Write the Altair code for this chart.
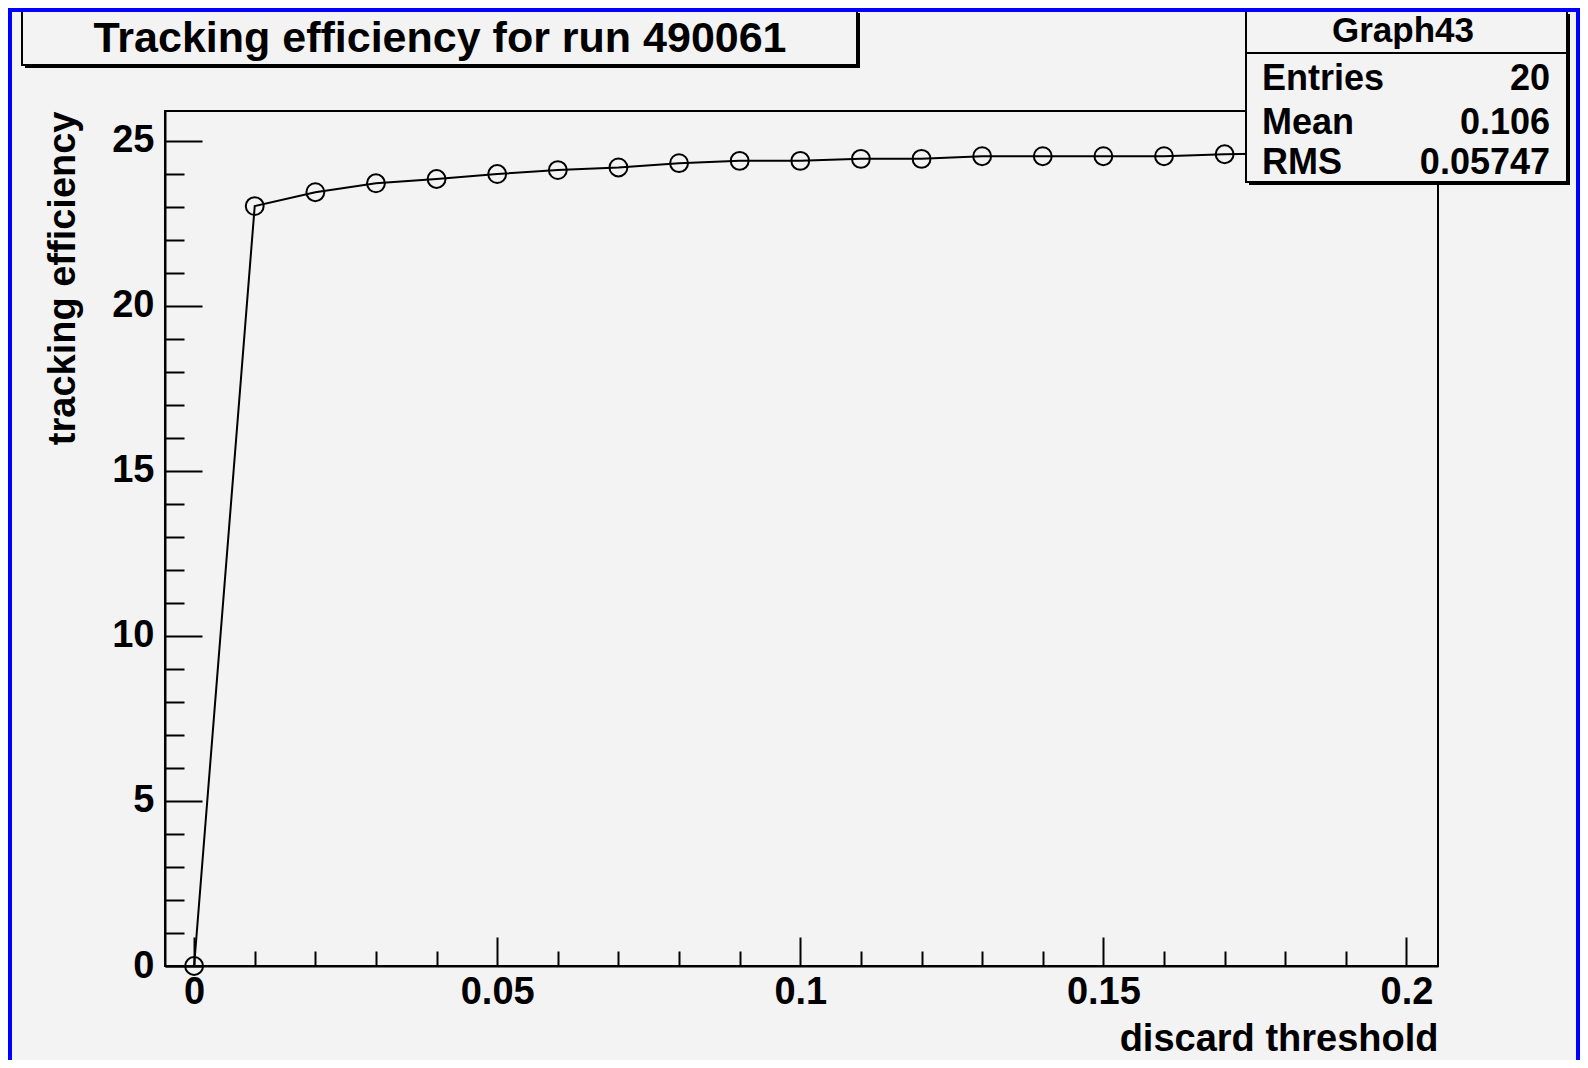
import altair as alt
import pandas as pd

# ---------------- data ----------------
x_vals = [0.00, 0.01, 0.02, 0.03, 0.04, 0.05, 0.06, 0.07, 0.08, 0.09,
          0.10, 0.11, 0.12, 0.13, 0.14, 0.15, 0.16, 0.17, 0.18, 0.19]
y_vals = [0.0, 23.02, 23.44, 23.71, 23.84, 23.99, 24.11, 24.19, 24.32, 24.39,
          24.39, 24.45, 24.45, 24.53, 24.53, 24.53, 24.53, 24.59, 24.62, 24.65]

x_major = [0, 0.05, 0.1, 0.15, 0.2]
x_minor = [0.01, 0.02, 0.03, 0.04, 0.06, 0.07, 0.08, 0.09, 0.11, 0.12,
           0.13, 0.14, 0.16, 0.17, 0.18, 0.19]
y_major = [0, 5, 10, 15, 20, 25]
y_minor = [1, 2, 3, 4, 6, 7, 8, 9, 11, 12, 13, 14, 16, 17, 18, 19, 21, 22, 23, 24]

title_text = "Tracking efficiency for run 490061"
x_title = "discard threshold"
y_title = "tracking efficiency"
stats_name = "Graph43"
stats_labels = ["Entries", "Mean", "RMS"]
stats_values = ["20", "0.106", "0.05747"]

# ---------------- layout ----------------
W, H = 1273, 855
PAD_L, PAD_T = 157, 103
TOTAL_W, TOTAL_H = 1572, 1052
BG = "#f3f3f3"
FONT = "Liberation Sans"

df = pd.DataFrame({"x": x_vals, "y": y_vals})
one = pd.DataFrame({"k": [0]})

xs = alt.Scale(domain=[-0.0048, 0.2052], nice=False, zero=False)
ys = alt.Scale(domain=[0, 25.9], nice=False, zero=False)

lab = dict(labelFont=FONT, labelFontSize=38, labelFontWeight="bold", labelColor="black")
ttl = dict(titleFont=FONT, titleFontSize=38, titleFontWeight="bold", titleColor="black")

# main line with labels / domain
line = alt.Chart(df).mark_line(color="black", strokeWidth=2).encode(
    x=alt.X("x:Q", scale=xs, axis=alt.Axis(
        orient="bottom", values=x_major, format="~g", ticks=False, tickSize=0,
        domain=True, domainColor="black", domainWidth=2, grid=False,
        labelPadding=7, labelFlush=False, labelOverlap=False, **lab,
        title=x_title, titleX=W, titleY=84, titleAlign="right",
        titleBaseline="alphabetic", **ttl)),
    y=alt.Y("y:Q", scale=ys, axis=alt.Axis(
        orient="left", values=y_major, format="d", ticks=False, tickSize=0,
        domain=True, domainColor="black", domainWidth=2, grid=False,
        labelPadding=11, labelFlush=False, labelOverlap=False, **lab,
        title=y_title, titleX=-102, titleY=0, titleAngle=270, titleAlign="right",
        titleBaseline="middle", **ttl)),
)

# markers with major inward ticks
points = alt.Chart(df).mark_point(shape="circle", filled=False, size=320,
                                  stroke="black", strokeWidth=2, opacity=1).encode(
    x=alt.X("x:Q", scale=xs, axis=alt.Axis(
        orient="bottom", values=x_major, ticks=True, tickSize=29, tickWidth=2,
        tickColor="black", offset=-29, domain=False, labels=False, grid=False, title="")),
    y=alt.Y("y:Q", scale=ys, axis=alt.Axis(
        orient="left", values=y_major, ticks=True, tickSize=37, tickWidth=2,
        tickColor="black", offset=-37, domain=False, labels=False, grid=False, title="")),
)

# invisible layer carrying minor inward ticks
minor = alt.Chart(df).mark_point(opacity=0).encode(
    x=alt.X("x:Q", scale=xs, axis=alt.Axis(
        orient="bottom", values=x_minor, ticks=True, tickSize=15, tickWidth=2,
        tickColor="black", offset=-15, domain=False, labels=False, grid=False, title="")),
    y=alt.Y("y:Q", scale=ys, axis=alt.Axis(
        orient="left", values=y_minor, ticks=True, tickSize=19, tickWidth=2,
        tickColor="black", offset=-19, domain=False, labels=False, grid=False, title="")),
)


def box(x1, x2, y1, y2, shadow=3):
    sh = alt.Chart(one).mark_rect(fill="black").encode(
        x=alt.value(x1 + shadow), x2=alt.value(x2 + shadow),
        y=alt.value(y1 + shadow), y2=alt.value(y2 + shadow))
    fr = alt.Chart(one).mark_rect(fill=BG, stroke="black", strokeWidth=2).encode(
        x=alt.value(x1), x2=alt.value(x2), y=alt.value(y1), y2=alt.value(y2))
    return [sh, fr]


def text(s, x, y, size, align):
    return alt.Chart(pd.DataFrame({"t": [s]})).mark_text(
        font=FONT, fontSize=size, fontWeight="bold", color="black",
        align=align, baseline="alphabetic").encode(
        x=alt.value(x), y=alt.value(y), text="t:N")


layers = [line, points, minor]

# title box
layers += box(-143, 692, -101, -46)
layers.append(text(title_text, 275, -59, 43, "center"))

# stats box
layers += box(1081, 1402, -100, 71)
layers.append(alt.Chart(one).mark_rule(color="black", strokeWidth=2).encode(
    x=alt.value(1081), x2=alt.value(1402), y=alt.value(-58)))
layers.append(text(stats_name, 1238, -69, 35, "center"))
rows_y = [-21, 23, 63]
for i in range(len(stats_labels)):
    layers.append(text(stats_labels[i], 1097, rows_y[i], 36, "left"))
    layers.append(text(stats_values[i], 1385, rows_y[i], 36, "right"))

# blue outer frame (bottom edge falls outside the picture)
layers.append(alt.Chart(one).mark_rect(fillOpacity=0, stroke="#0000ff", strokeWidth=8).encode(
    x=alt.value(-PAD_L), x2=alt.value(TOTAL_W - PAD_L),
    y=alt.value(-PAD_T), y2=alt.value(TOTAL_H - PAD_T + 20)))

chart = alt.layer(*layers).resolve_axis(x="independent", y="independent").properties(
    width=W, height=H,
    background=BG,
    autosize=alt.AutoSizeParams(type="none"),
    padding={"left": PAD_L, "top": PAD_T,
             "right": TOTAL_W - PAD_L - W, "bottom": TOTAL_H - PAD_T - H},
).configure_view(stroke="black", strokeWidth=2, fill=BG)

chart.save("out.html", embed_options={"renderer": "svg", "actions": False})
